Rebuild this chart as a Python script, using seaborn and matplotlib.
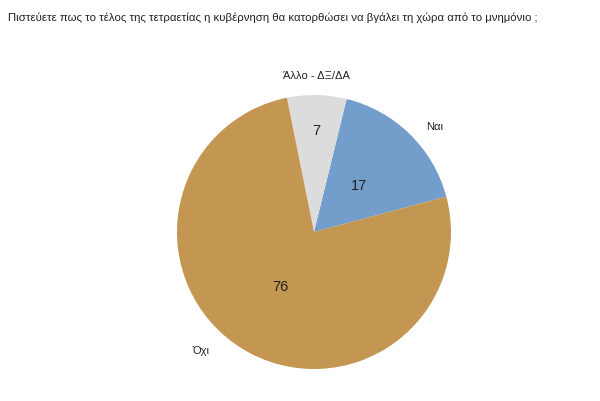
import numpy as np
import matplotlib
matplotlib.use("Agg")
import matplotlib.pyplot as plt
import seaborn as sns

title = "Πιστεύετε πως το τέλος της τετραετίας η κυβέρνηση θα κατορθώσει να βγάλει τη χώρα από το μνημόνιο ;"
categories = ["Ναι", "Άλλο - ΔΞ/ΔΑ", "Όχι"]
values = [17, 7, 76]
colors = ["#739DCB", "#DCDCDC", "#C39652"]

sns.set_theme(style="white")
plt.rcParams['font.family'] = ['Liberation Sans', 'DejaVu Sans']

fig = plt.figure(figsize=(6.0, 4.01), dpi=100)
ax = fig.add_axes([0.2379, -0.0056, 0.5708, 0.854])

wedges, _ = ax.pie(values, colors=colors, startangle=15, counterclock=True,
                   wedgeprops=dict(linewidth=0))
ax.set_xlim(-1.25, 1.25)
ax.set_ylim(-1.25, 1.25)
ax.set_aspect("equal")
ax.axis("off")

# category labels outside the pie
label_dist = 1.17
label_shift = [(8.5, -9), (-1, -4), (-28.5, 17)]  # pixel nudges
for w, c, s in zip(wedges, categories, label_shift):
    ang = np.deg2rad((w.theta1 + w.theta2) / 2)
    ax.annotate(c, xy=(label_dist * np.cos(ang), label_dist * np.sin(ang)),
                xytext=s, textcoords="offset pixels", ha="center", va="center",
                fontsize=8, color="#222222", annotation_clip=False)

# value labels inside
val_dist = [0.47, 0.74, 0.47]
for w, v, d in zip(wedges, values, val_dist):
    ang = np.deg2rad((w.theta1 + w.theta2) / 2)
    ax.text(d * np.cos(ang), d * np.sin(ang), str(v), ha="center", va="center",
            fontsize=10.5, color="#222222")

fig.text(0.013, 0.955, title, ha="left", va="center", fontsize=8.2, color="#222222")

fig.savefig("out.png", dpi=100)
